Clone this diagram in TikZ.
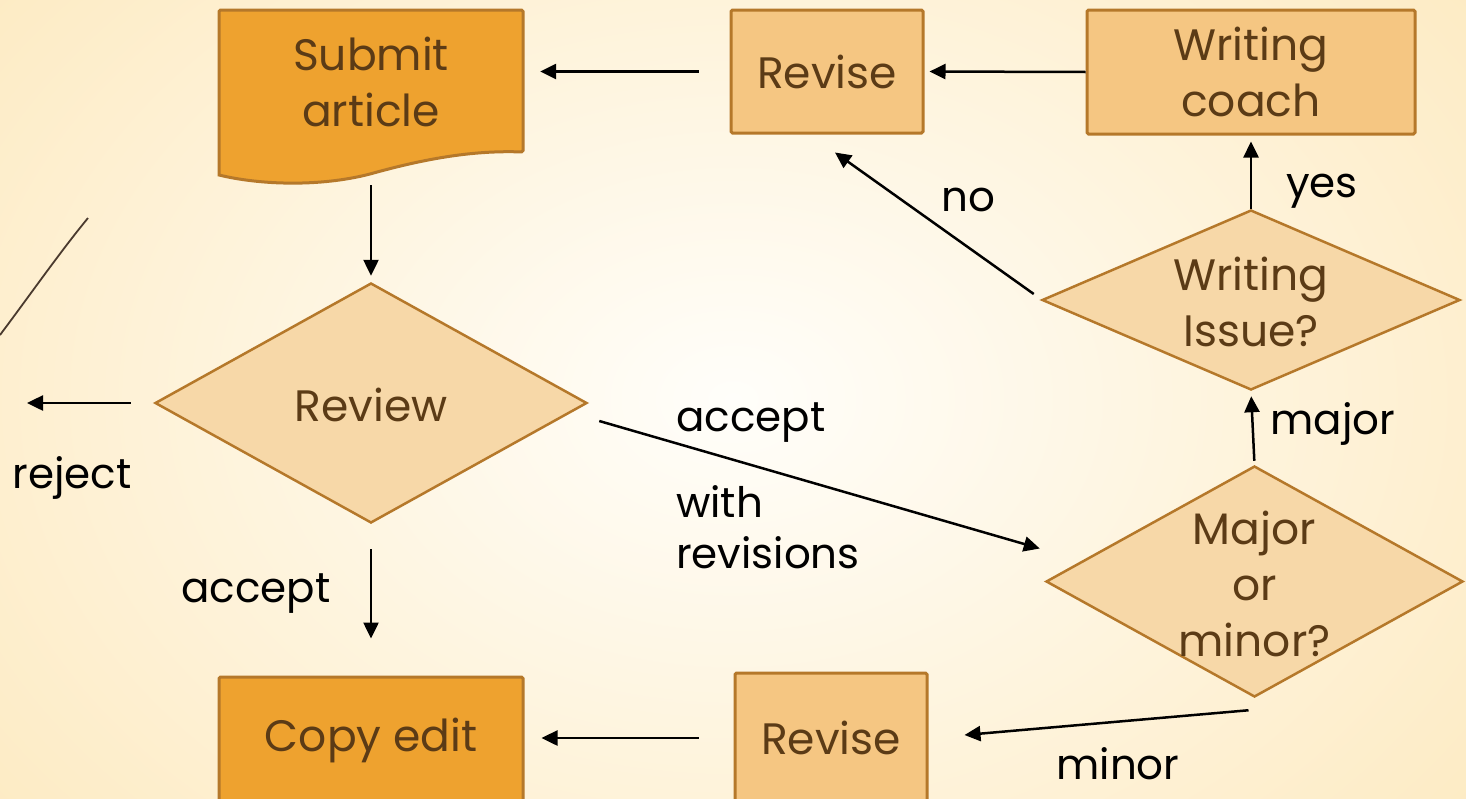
\documentclass[tikz,border=0pt]{standalone}
\usepackage{fontspec}
\setmainfont{Poppins}
\usetikzlibrary{shapes.geometric,arrows.meta,calc}
\definecolor{orangeF}{HTML}{EEA22F}
\definecolor{lightF}{HTML}{F5C682}
\definecolor{diaF}{HTML}{F7D8A8}
\definecolor{borderC}{HTML}{B5782A}
\definecolor{textC}{HTML}{5B3B16}
\definecolor{bgIn}{HTML}{FFFEFA}
\definecolor{bgOut}{HTML}{FDE9BE}
\definecolor{curveC}{HTML}{4A3A2E}
\tikzset{
  box/.style={rectangle, draw=borderC, line width=3pt, rounded corners=1.5pt, inner sep=0pt},
  orangebox/.style={box, fill=orangeF},
  lightbox/.style={box, fill=lightF},
  dia/.style={diamond, draw=borderC, line width=2.5pt, fill=diaF, inner sep=0pt, aspect=1.8},
  ntext/.style={text=textC, font=\fontsize{44}{56}\selectfont, align=center, inner sep=0pt},
  ltext/.style={text=black, font=\fontsize{42}{51}\selectfont, align=left, inner sep=0pt},
  arr/.style={draw=black, line width=2.5pt, -{Triangle[length=16pt,width=15pt]}},
}
\begin{document}
\begin{tikzpicture}[x=1pt,y=-1pt]
\useasboundingbox (0,0) rectangle (1466,798);
\shade[inner color=bgIn, outer color=bgOut] (-300,-350) rectangle (1766,1148);
\draw[curveC, line width=1.8pt] (0,335) .. controls (30,295) and (60,252) .. (88,218);

% Submit article (document shape)
\node[minimum width=304pt, minimum height=174pt, inner sep=0pt] (sub) at (371,97) {};
\draw[draw=borderC, fill=orangeF, line width=3pt, rounded corners=1.5pt]
  (219,10) -- (523,10) -- (523,152)
  [rounded corners=0pt] .. controls (470,150) and (420,160) .. (370,174)
  .. controls (320,187) and (260,185) .. (219,175) [rounded corners=1.5pt] -- cycle;
\node[ntext] at (371,82) {Submit\\article};

\node[lightbox, minimum width=192pt, minimum height=123pt] (revT) at (827,71.5) {};
\node[ntext] at (revT) {Revise};
\node[lightbox, minimum width=328pt, minimum height=124pt] (coach) at (1251,72) {};
\node[ntext] at (coach) {Writing\\coach};

\node[dia, minimum width=432pt, minimum height=240pt] (rev) at (371,403) {};
\node[ntext] at (371,405) {Review};
\node[dia, minimum width=418pt, minimum height=180pt] (wi) at (1251,300) {};
\node[ntext] at (1251,302) {Writing\\Issue?};
\node[dia, minimum width=417pt, minimum height=231pt] (mm) at (1254.5,581.5) {};
\node[ntext] at (1254.5,584) {Major\\or\\minor?};

\node[orangebox, minimum width=304pt, minimum height=126pt] (copy) at (371,740) {};
\node[ntext] at (371,740) {Copy edit};
\node[lightbox, minimum width=192pt, minimum height=130pt] (revB) at (831,738) {};
\node[ntext] at (831,738) {Revise};

\coordinate (rej) at (27,403);

% connectors
\draw[arr, shorten <=31pt, shorten >=17pt] (revT.west) -- (revT.west -| sub.east);
\draw[arr, shorten >=5pt] (coach.west) -- (revT.east);
\draw[arr, shorten <=1pt, shorten >=6pt] (sub.south) -- (rev.north);
\draw[arr, shorten <=23pt] (rev.west) -- (rej);
\draw[arr, shorten <=25pt, shorten >=37pt] (rev.south) -- (copy.north);
\draw[arr] ($(rev.east)+(11,18)$) -- ($(mm.west)+(-5,-33)$);
\draw[arr, shorten <=4pt, shorten >=5pt] (mm.north) -- (wi.south);
\draw[arr, shorten >=6pt] (wi.north) -- (coach.south);
\draw[arr] ($(wi.west)+(-7,-6)$) -- ($(revT.south)+(8,18)$);
\draw[arr] ($(mm.south)+(-6,12)$) -- ($(revB.east)+(36,-3)$);
\draw[arr, shorten <=35pt, shorten >=17pt] (revB.west) -- (revB.west -| copy.east);

% labels
\node[ltext, anchor=base] (lno) at (968,211) {no};
\node[ltext, anchor=base] (lyes) at (1322,197) {yes};
\node[ltext, anchor=base] (lmajor) at (1333,434) {major};
\node[ltext, anchor=base] (lminor) at (1118,779) {minor};
\node[ltext, anchor=base] (lacc1) at (751,431) {accept};
\node[ltext, anchor=west] (lwith) at (676,527) {with\\revisions};
\node[ltext, anchor=base] (lrej) at (72,488) {reject};
\node[ltext, anchor=base] (lacc2) at (256,602) {accept};
\end{tikzpicture}
\end{document}
